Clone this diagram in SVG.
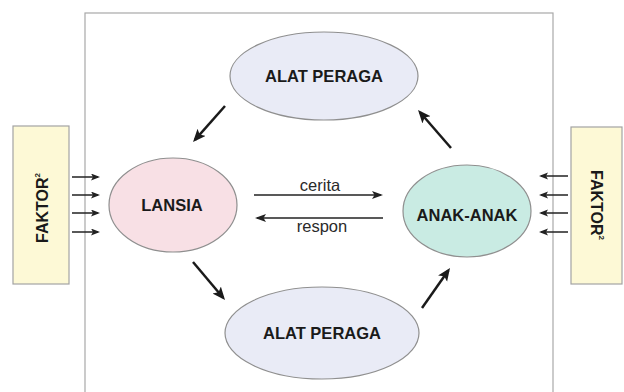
<svg xmlns="http://www.w3.org/2000/svg" width="624" height="392" viewBox="0 0 624 392">
<defs>
<style>
.node-ellipse{stroke:#8f8f8f;stroke-width:1.2}
.alat{fill:#e9ebf6}
.lansia{fill:#f8e0e5}
.anak{fill:#c9ebe3}
.faktor{fill:#fdf9d6;stroke:#a3a3a3;stroke-width:1.2}
.lbl{font-family:"Liberation Sans",Arial,sans-serif;font-weight:bold;font-size:16.5px;fill:#1a1a1a;text-anchor:middle}
.flbl{font-family:"Liberation Sans",Arial,sans-serif;font-weight:bold;font-size:16px;fill:#1a1a1a;text-anchor:middle}
.elbl{font-family:"Liberation Sans",Arial,sans-serif;font-size:16.5px;fill:#2a2a2a;text-anchor:middle}
.big{stroke:#1a1a1a;stroke-width:2.5;fill:none;marker-end:url(#mBig)}
.mid{stroke:#222;stroke-width:1.5;fill:none;marker-end:url(#mMid)}
.small{stroke:#222;stroke-width:1.5;fill:none;marker-end:url(#mSmall)}
</style>
<marker id="mBig" markerUnits="userSpaceOnUse" markerWidth="14" markerHeight="12" refX="10" refY="5.5" orient="auto"><path d="M0,0 L13,5.5 L0,11 L3,5.5 z" fill="#1a1a1a"/></marker>
<marker id="mMid" markerUnits="userSpaceOnUse" markerWidth="12" markerHeight="9" refX="9" refY="4" orient="auto"><path d="M0,0 L11,4 L0,8 L2.5,4 z" fill="#222"/></marker>
<marker id="mSmall" markerUnits="userSpaceOnUse" markerWidth="10" markerHeight="8" refX="7" refY="3.5" orient="auto"><path d="M0,0 L9,3.5 L0,7 L2,3.5 z" fill="#222"/></marker>
</defs>
<rect x="0" y="0" width="624" height="392" fill="#ffffff"/>
<rect id="frame" x="85" y="13" width="468" height="390" fill="#ffffff" stroke="#a8a8a8" stroke-width="1.2"/>

<g id="faktor-left">
<rect class="faktor" x="13" y="126" width="56" height="158"/>
<text class="flbl" transform="translate(48,208) rotate(-90)">FAKTOR<tspan font-size="8" dy="-8">2</tspan></text>
</g>
<g id="faktor-right">
<rect class="faktor" x="571" y="127" width="51" height="157"/>
<text class="flbl" transform="translate(591,205) rotate(90)">FAKTOR<tspan font-size="8" dy="-8">2</tspan></text>
</g>

<g id="alat-top">
<ellipse class="node-ellipse alat" cx="324" cy="76" rx="94" ry="44"/>
<text class="lbl" x="324" y="82">ALAT PERAGA</text>
</g>
<g id="alat-bottom">
<ellipse class="node-ellipse alat" cx="322" cy="333" rx="97" ry="46"/>
<text class="lbl" x="322" y="339">ALAT PERAGA</text>
</g>
<g id="lansia">
<ellipse class="node-ellipse lansia" cx="173" cy="205" rx="64" ry="47"/>
<text class="lbl" x="172" y="211">LANSIA</text>
</g>
<g id="anak">
<ellipse class="node-ellipse anak" cx="467" cy="211" rx="64" ry="46"/>
<text class="lbl" x="467" y="221">ANAK-ANAK</text>
</g>

<g id="connectors">
<line class="small" x1="72" y1="177" x2="98" y2="177"/>
<line class="small" x1="72" y1="195" x2="98" y2="195"/>
<line class="small" x1="72" y1="213" x2="98" y2="213"/>
<line class="small" x1="72" y1="232" x2="98" y2="232"/>
<line class="small" x1="568" y1="176" x2="541" y2="176"/>
<line class="small" x1="568" y1="195" x2="541" y2="195"/>
<line class="small" x1="568" y1="213" x2="541" y2="213"/>
<line class="small" x1="568" y1="232" x2="541" y2="232"/>
<line class="big" x1="225" y1="106" x2="195" y2="139.8"/>
<line class="big" x1="451" y1="148" x2="420" y2="112.3"/>
<line class="big" x1="193" y1="262" x2="223.1" y2="297.7"/>
<line class="big" x1="422" y1="308" x2="448.3" y2="270.5"/>
<line class="mid" x1="254" y1="195" x2="381" y2="195"/>
<line class="mid" x1="383" y1="218" x2="257" y2="218"/>
<text class="elbl" x="320" y="191">cerita</text>
<text class="elbl" x="322" y="232">respon</text>
</g>
</svg>
